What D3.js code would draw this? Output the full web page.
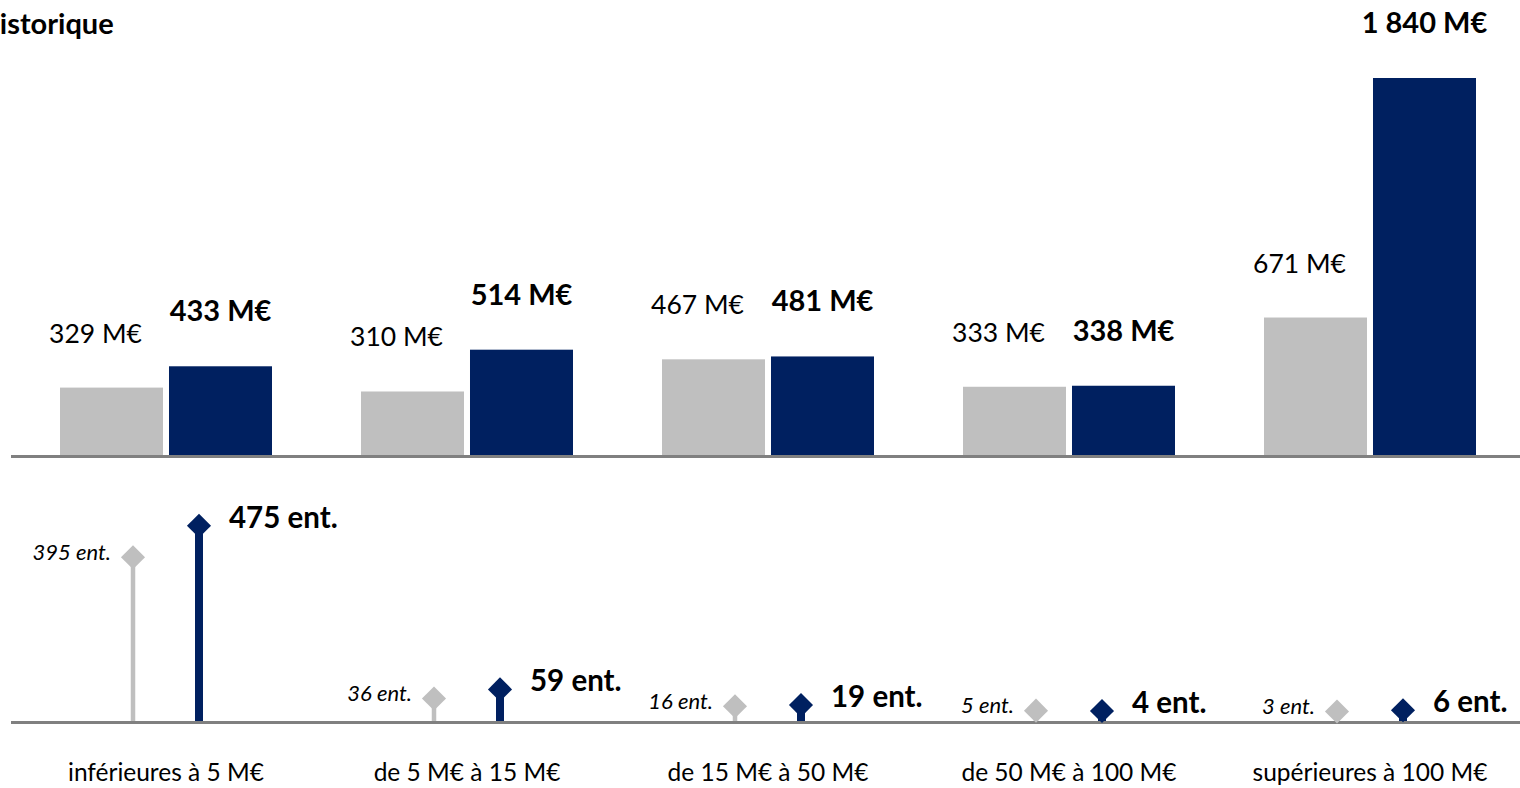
<!DOCTYPE html>
<html>
<head>
<meta charset="utf-8">
<script src="https://cdn.jsdelivr.net/npm/d3@7"></script>
<style>
  html, body { margin: 0; padding: 0; background: #fff; overflow: hidden; }
  svg { display: block; font-family: Lato, "Open Sans", sans-serif; }
</style>
</head>
<body>
<svg id="chart" width="1520" height="788"></svg>
<script>
// ---- Data ----
const title = "Historique";
const categories = ["inférieures à 5 M€", "de 5 M€ à 15 M€", "de 15 M€ à 50 M€", "de 50 M€ à 100 M€", "supérieures à 100 M€"];
const series = ["previous", "current"];
const amountsPrevious = [329, 310, 467, 333, 671];      // M€
const amountsCurrent  = [433, 514, 481, 338, 1840];     // M€
const countsPrevious  = [395, 36, 16, 5, 3];            // ent.
const countsCurrent   = [475, 59, 19, 4, 6];            // ent.
const amountLabelsPrevious = ["329 M€", "310 M€", "467 M€", "333 M€", "671 M€"];
const amountLabelsCurrent  = ["433 M€", "514 M€", "481 M€", "338 M€", "1 840 M€"];
const countLabelsPrevious  = ["395 ent.", "36 ent.", "16 ent.", "5 ent.", "3 ent."];
const countLabelsCurrent   = ["475 ent.", "59 ent.", "19 ent.", "4 ent.", "6 ent."];

const colors = { previous: "#BFBFBF", current: "#002060" };
const axisColor = "#808080";

const svg = d3.select("#chart");

// ---- Scales ----
const x = d3.scaleBand().domain(categories).range([15.5, 1520.5]).paddingInner(0).paddingOuter(0);
const xSub = d3.scaleBand().domain(series).range([44.5, 256.5]).paddingInner(0.055).paddingOuter(0);
const xPt = d3.scalePoint().domain(series).range([-33, 33]);

const yBar = d3.scaleLinear().domain([0, 1840]).range([455, 78]);
const yCnt = d3.scaleLinear().domain([0, 475]).range([712.6, 525.7]);
const barAxisY = 456.5;
const cntAxisY = 722.5;

const barData = categories.map((c, i) => [
  { cat: c, s: "previous", v: amountsPrevious[i], label: amountLabelsPrevious[i] },
  { cat: c, s: "current",  v: amountsCurrent[i],  label: amountLabelsCurrent[i] }
]).flat();
const cntData = categories.map((c, i) => [
  { cat: c, s: "previous", v: countsPrevious[i], label: countLabelsPrevious[i] },
  { cat: c, s: "current",  v: countsCurrent[i],  label: countLabelsCurrent[i] }
]).flat();

// ---- Title ----
const tmp = svg.append("text").attr("font-weight", 700).attr("font-size", 29).text("H");
const hW = tmp.node().getComputedTextLength();
tmp.remove();
svg.append("text")
  .attr("x", -hW).attr("y", 34)
  .attr("font-weight", 700).attr("font-size", 29).attr("fill", "#000")
  .text(title);

// ---- Bars ----
svg.append("g").selectAll("rect").data(barData).join("rect")
  .attr("x", d => x(d.cat) + xSub(d.s))
  .attr("width", xSub.bandwidth())
  .attr("y", d => yBar(d.v))
  .attr("height", d => yBar(0) - yBar(d.v))
  .attr("fill", d => colors[d.s]);

svg.append("g").selectAll("text").data(barData).join("text")
  .attr("x", d => x(d.cat) + xSub(d.s) + xSub.bandwidth() / 2 + (d.s === "previous" ? -16 : 0))
  .attr("y", d => yBar(d.v) - 45)
  .attr("text-anchor", "middle")
  .attr("font-size", d => d.s === "current" ? 29 : 26.5)
  .attr("font-weight", d => d.s === "current" ? 700 : 400)
  .attr("fill", "#000")
  .text(d => d.label);

svg.append("line")
  .attr("x1", 11).attr("x2", 1520).attr("y1", barAxisY).attr("y2", barAxisY)
  .attr("stroke", axisColor).attr("stroke-width", 3);

// ---- Lollipops ----
const cx = d => x(d.cat) + x.bandwidth() / 2 + xPt(d.s);
svg.append("g").selectAll("line").data(cntData).join("line")
  .attr("x1", cx).attr("x2", cx)
  .attr("y1", cntAxisY).attr("y2", d => yCnt(d.v))
  .attr("stroke", d => colors[d.s])
  .attr("stroke-width", d => d.s === "current" ? 8 : 4.5);

svg.append("line")
  .attr("x1", 11).attr("x2", 1520).attr("y1", cntAxisY).attr("y2", cntAxisY)
  .attr("stroke", axisColor).attr("stroke-width", 3);

const diamond = d3.symbol().type(d3.symbolSquare).size(290);
svg.append("g").selectAll("path").data(cntData).join("path")
  .attr("d", diamond)
  .attr("transform", d => `translate(${cx(d)},${yCnt(d.v)}) rotate(45)`)
  .attr("fill", d => colors[d.s]);

svg.append("g").selectAll("text").data(cntData).join("text")
  .attr("x", d => cx(d) + (d.s === "current" ? 30 : -22))
  .attr("y", d => yCnt(d.v) + (d.s === "current" ? 2 : 2.5))
  .attr("text-anchor", d => d.s === "current" ? "start" : "end")
  .attr("font-size", d => d.s === "current" ? 29.5 : 22)
  .attr("font-weight", d => d.s === "current" ? 700 : 400)
  .attr("font-style", d => d.s === "current" ? "normal" : "italic")
  .attr("fill", "#000")
  .text(d => d.label);

// ---- Category axis labels ----
svg.append("g").selectAll("text").data(categories).join("text")
  .attr("x", d => x(d) + x.bandwidth() / 2)
  .attr("y", 781)
  .attr("text-anchor", "middle")
  .attr("font-size", 24.5)
  .attr("fill", "#000")
  .text(d => d);
</script>
</body>
</html>
